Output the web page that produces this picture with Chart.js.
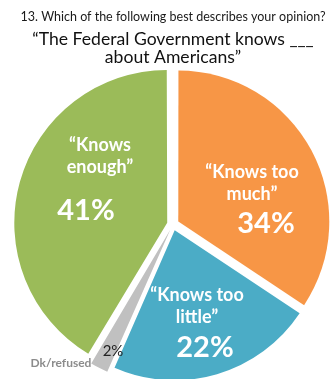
<!DOCTYPE html>
<html>
<head>
<meta charset="utf-8">
<script src="https://cdn.jsdelivr.net/npm/chart.js@4.4.1/dist/chart.umd.min.js"></script>
<style>
  html, body { margin: 0; padding: 0; background: #fff; }
</style>
</head>
<body>
<canvas id="opinion-chart" width="331" height="379"></canvas>
<script>
// Survey answers, clockwise from 12 o'clock
const answers = ['Knows too much', 'Knows too little', 'Dk/refused', 'Knows enough'];
const shares = [34, 22, 2, 41];
const sliceColors = ['#F79646', '#4BACC6', '#C0C0C0', '#9BBB59'];
const sliceText = [
    ['\u201CKnows too', 'much\u201D'],
    ['\u201CKnows too', 'little\u201D'],
    [],
    ['\u201CKnows', 'enough\u201D']
];
const question = '13. Which of the following best describes your opinion?';
const statement = ['\u201CThe Federal Government knows ___', 'about Americans\u201D'];

const FONT = 'Lato';

// Where each slice's text sits, relative to the pie centre
const labelPos = [
    { x: 79, y: -52, px: 93, py: -1 },
    { x: 24, y: 71, px: 32, py: 123 },
    { x: -60, y: 127 },
    { x: -73, y: -79, px: -87, py: -14 }
];

// Plugin: text inside the slices
const sliceLabels = {
    id: 'sliceLabels',
    afterDatasetsDraw(chart) {
        const ctx = chart.ctx;
        const arcs = chart.getDatasetMeta(0).data;
        ctx.save();
        ctx.textAlign = 'center';
        ctx.textBaseline = 'middle';
        arcs.forEach((arc, i) => {
            const pos = labelPos[i];
            const cx = arc.x, cy = arc.y;
            if (sliceText[i].length === 0) {
                // small slice: value and name sit outside
                ctx.fillStyle = '#222';
                ctx.font = `15px ${FONT}`;
                ctx.fillText(shares[i] + '%', cx + pos.x, cy + pos.y);
                ctx.fillStyle = '#8C8C8C';
                ctx.font = `bold 12px ${FONT}`;
                ctx.fillText(answers[i], cx - 112, cy + 139);
                return;
            }
            ctx.fillStyle = '#fff';
            ctx.font = `bold 18px ${FONT}`;
            sliceText[i].forEach((line, j) => {
                ctx.fillText(line, cx + pos.x, cy + pos.y + j * 22);
            });
            ctx.font = `bold 29px ${FONT}`;
            ctx.fillText(shares[i] + '%', cx + pos.px, cy + pos.py);
        });
        ctx.restore();
    }
};

const chartCanvas = document.getElementById('opinion-chart');

let opinionChart = new Chart(chartCanvas, {
    type: 'pie',
    data: {
        labels: answers,
        datasets: [{
            data: shares,
            backgroundColor: sliceColors,
            borderWidth: 0,
            offset: 24
        }]
    },
    options: {
        responsive: false,
        devicePixelRatio: 1,
        animation: false,
        radius: 150,
        layout: { padding: { left: 15, right: 0, top: 0, bottom: 0 } },
        plugins: {
            legend: { display: false },
            tooltip: { enabled: false },
            title: {
                display: true,
                text: question,
                color: '#1a1a1a',
                font: { family: FONT, size: 12.5, weight: 'normal', lineHeight: 1.2 },
                padding: { top: 9, bottom: 2 }
            },
            subtitle: {
                display: true,
                text: statement,
                color: '#111',
                font: { family: FONT, size: 17.6, weight: 'normal', lineHeight: 1.02 },
                padding: { top: 4, bottom: 4 }
            }
        }
    },
    plugins: [sliceLabels]
});
</script>
</body>
</html>
